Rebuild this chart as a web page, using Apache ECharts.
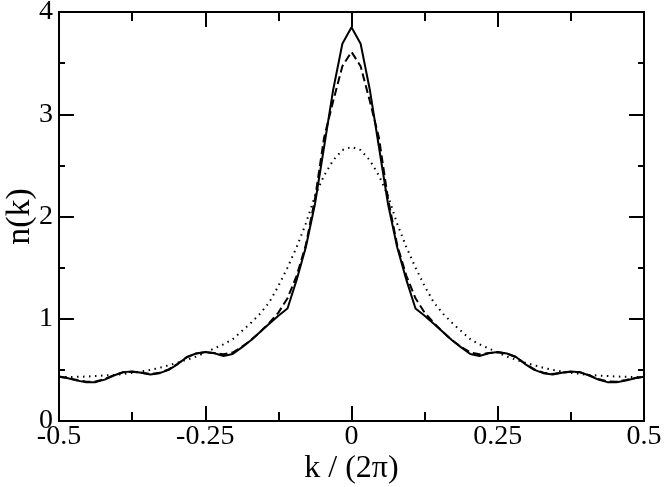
<!DOCTYPE html>
<html>
<head>
<meta charset="utf-8">
<script src="https://cdn.jsdelivr.net/npm/echarts@6/dist/echarts.min.js"></script>
<style>
  html, body { margin: 0; padding: 0; background: #fff; }
  #chart { width: 664px; height: 487px; }
</style>
</head>
<body>
<div id="chart"></div>
<script>
// k grid (units of 2*pi), step 1/64
const kValues = [
  -0.5, -0.4844, -0.4688, -0.4531, -0.4375, -0.4219, -0.4063, -0.3906,
  -0.375, -0.3594, -0.3438, -0.3281, -0.3125, -0.2969, -0.2813, -0.2656,
  -0.25, -0.2344, -0.2188, -0.2031, -0.1875, -0.1719, -0.1563, -0.1406,
  -0.125, -0.1094, -0.0938, -0.0781, -0.0625, -0.0469, -0.0313, -0.0156,
  0,
  0.0156, 0.0313, 0.0469, 0.0625, 0.0781, 0.0938, 0.1094, 0.125,
  0.1406, 0.1563, 0.1719, 0.1875, 0.2031, 0.2188, 0.2344, 0.25,
  0.2656, 0.2813, 0.2969, 0.3125, 0.3281, 0.3438, 0.3594, 0.375,
  0.3906, 0.4063, 0.4219, 0.4375, 0.4531, 0.4688, 0.4844, 0.5
]

// solid curve
const nSolid = [
  0.433, 0.418, 0.395, 0.378, 0.38, 0.405, 0.445, 0.478,
  0.484, 0.472, 0.455, 0.468, 0.50, 0.557, 0.626, 0.66,
  0.675, 0.662, 0.636, 0.655, 0.72, 0.79, 0.87, 0.95,
  1.03, 1.10, 1.38, 1.70, 2.12, 2.68, 3.24, 3.69,
  3.85,
  3.69, 3.24, 2.68, 2.12, 1.70, 1.38, 1.10, 1.03,
  0.95, 0.87, 0.79, 0.72, 0.655, 0.636, 0.662, 0.675,
  0.66, 0.626, 0.557, 0.50, 0.468, 0.455, 0.472, 0.484,
  0.478, 0.445, 0.405, 0.38, 0.378, 0.395, 0.418, 0.433
]

// dashed curve
const nDashed = [
  0.435, 0.42, 0.40, 0.384, 0.386, 0.41, 0.447, 0.476,
  0.482, 0.472, 0.46, 0.472, 0.505, 0.56, 0.625, 0.66,
  0.672, 0.664, 0.652, 0.67, 0.725, 0.79, 0.87, 0.96,
  1.06, 1.20, 1.42, 1.72, 2.17, 2.77, 3.13, 3.47,
  3.61,
  3.47, 3.13, 2.77, 2.17, 1.72, 1.42, 1.20, 1.06,
  0.96, 0.87, 0.79, 0.725, 0.67, 0.652, 0.664, 0.672,
  0.66, 0.625, 0.56, 0.505, 0.472, 0.46, 0.472, 0.482,
  0.476, 0.447, 0.41, 0.386, 0.384, 0.40, 0.42, 0.435
]

// dotted curve
const nDotted = [
  0.43, 0.43, 0.432, 0.435, 0.44, 0.445, 0.45, 0.46,
  0.47, 0.485, 0.50, 0.52, 0.545, 0.57, 0.60, 0.63,
  0.67, 0.71, 0.75, 0.80, 0.88, 0.96, 1.05, 1.16,
  1.32, 1.50, 1.70, 1.93, 2.20, 2.40, 2.55, 2.65,
  2.68,
  2.65, 2.55, 2.40, 2.20, 1.93, 1.70, 1.50, 1.32,
  1.16, 1.05, 0.96, 0.88, 0.80, 0.75, 0.71, 0.67,
  0.63, 0.60, 0.57, 0.545, 0.52, 0.50, 0.485, 0.47,
  0.46, 0.45, 0.445, 0.44, 0.435, 0.432, 0.43, 0.43
]

const font = '"Liberation Serif", "Times New Roman", serif'

const pairs = arr => kValues.map((k, i) => [k, arr[i]])

const xBase = (pos, showLabel) => ({
  type: 'value',
  position: pos,
  min: -0.5,
  max: 0.5,
  interval: 0.25,
  axisLine: { show: true, onZero: false, lineStyle: { color: '#000', width: 2 } },
  axisTick: { show: true, inside: true, length: 15, lineStyle: { color: '#000', width: 2 } },
  minorTick: { show: true, splitNumber: 2, length: 9, lineStyle: { color: '#000', width: 2 } },
  axisLabel: { show: showLabel, color: '#000', fontFamily: font, fontSize: 28, margin: 2 },
  splitLine: { show: false },
})

const yBase = (pos, showLabel) => ({
  type: 'value',
  position: pos,
  min: 0,
  max: 4,
  interval: 1,
  axisLine: { show: true, onZero: false, lineStyle: { color: '#000', width: 2 } },
  axisTick: { show: true, inside: true, length: 15, lineStyle: { color: '#000', width: 2 } },
  minorTick: { show: true, splitNumber: 2, length: 6, lineStyle: { color: '#000', width: 2 } },
  axisLabel: { show: showLabel, color: '#000', fontFamily: font, fontSize: 28, margin: 6 },
  splitLine: { show: false },
})

const chart = echarts.init(document.getElementById('chart'))

const xBottom = xBase('bottom', true)
xBottom.name = 'k / (2\u03c0)'
xBottom.nameLocation = 'middle'
xBottom.nameGap = 32
xBottom.nameMoveOverlap = false
xBottom.nameTextStyle = { color: '#000', fontFamily: font, fontSize: 32 }

const yLeft = yBase('left', true)
yLeft.name = 'n(k)'
yLeft.nameLocation = 'middle'
yLeft.nameGap = 22
yLeft.nameMoveOverlap = false
yLeft.nameTextStyle = { color: '#000', fontFamily: font, fontSize: 34 }

chart.setOption({
  animation: false,
  backgroundColor: '#fff',
  grid: { left: 59, right: 20, top: 12, bottom: 66, containLabel: false, outerBoundsMode: 'none' },
  xAxis: [xBottom, xBase('top', false)],
  yAxis: [yLeft, yBase('right', false)],
  series: [
    {
      name: 'dotted',
      type: 'line',
      data: pairs(nDotted),
      showSymbol: false,
      lineStyle: { color: '#000', width: 2, type: [1.5, 4.5] },
    },
    {
      name: 'dashed',
      type: 'line',
      data: pairs(nDashed),
      showSymbol: false,
      lineStyle: { color: '#000', width: 2, type: [8, 4] },
    },
    {
      name: 'solid',
      type: 'line',
      data: pairs(nSolid),
      showSymbol: false,
      lineStyle: { color: '#000', width: 2 },
    },
  ],
})
</script>
</body>
</html>
